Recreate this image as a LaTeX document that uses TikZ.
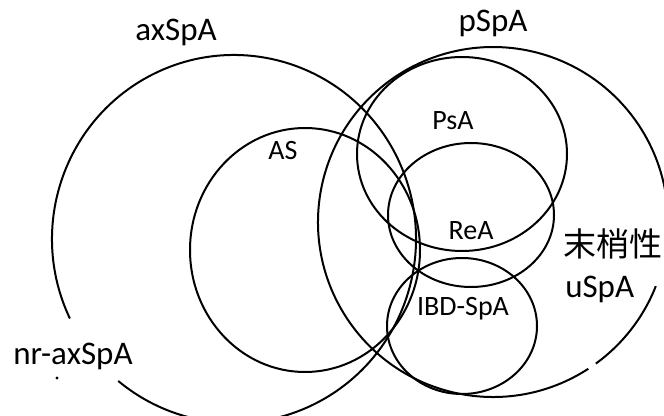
\documentclass[tikz,border=0pt]{standalone}
\usepackage{fontspec}
\setmainfont{Carlito}
\newfontfamily\cjk{Noto Sans CJK JP}
\begin{document}
\begin{tikzpicture}[x=0.75pt,y=-0.75pt,
  ring/.style={line width=1.5pt,black},
  outerlbl/.style={font=\fontsize{24.75}{30}\selectfont,inner sep=0pt},
  innerlbl/.style={font=\fontsize{21}{26}\selectfont,inner sep=0pt}]
\useasboundingbox[fill=white] (0,0) rectangle (664,416);
% axSpA (with gap at lower left)
\draw[ring] (234,239) ++(154.4:182 and 184) arc[start angle=154.4,end angle=489.5,x radius=182,y radius=184];
% AS
\draw[ring] (305,250) ellipse [x radius=115,y radius=122];
% pSpA (peripheral)
\draw[ring] (493,222) ++(21.5:175) arc[start angle=21.5,end angle=54,radius=175];
\draw[ring] (493,222) ++(57:175) arc[start angle=57,end angle=352,radius=175];
% PsA
\draw[ring] (462,154) ellipse [x radius=105,y radius=97];
% ReA
\draw[ring] (471,215) ellipse [x radius=83,y radius=72];
% IBD-SpA
\draw[ring] (462,326) ellipse [x radius=75,y radius=68];
% labels
\node[outerlbl,anchor=base] (ax) at (176,41) {axSpA};
\node[outerlbl,anchor=base] (ps) at (493,32) {pSpA};
\node[innerlbl,anchor=base] (as) at (283,160) {AS};
\node[innerlbl,anchor=base] (psa) at (453,130) {PsA};
\node[innerlbl,anchor=base] (rea) at (471,240) {ReA};
\node[innerlbl,anchor=base] (ibd) at (463,316) {IBD-SpA};
\node[outerlbl,anchor=base,font=\cjk\fontsize{24.75}{30}\selectfont] (mss) at (613,257) {末梢性};
\node[outerlbl,anchor=base west] (usp) at (565,298) {uSpA};
\node[outerlbl,anchor=base west] (nrax) at (13,365) {nr-axSpA};
\fill (57,378) circle [radius=1.6] coordinate (dot);
\end{tikzpicture}
\end{document}
